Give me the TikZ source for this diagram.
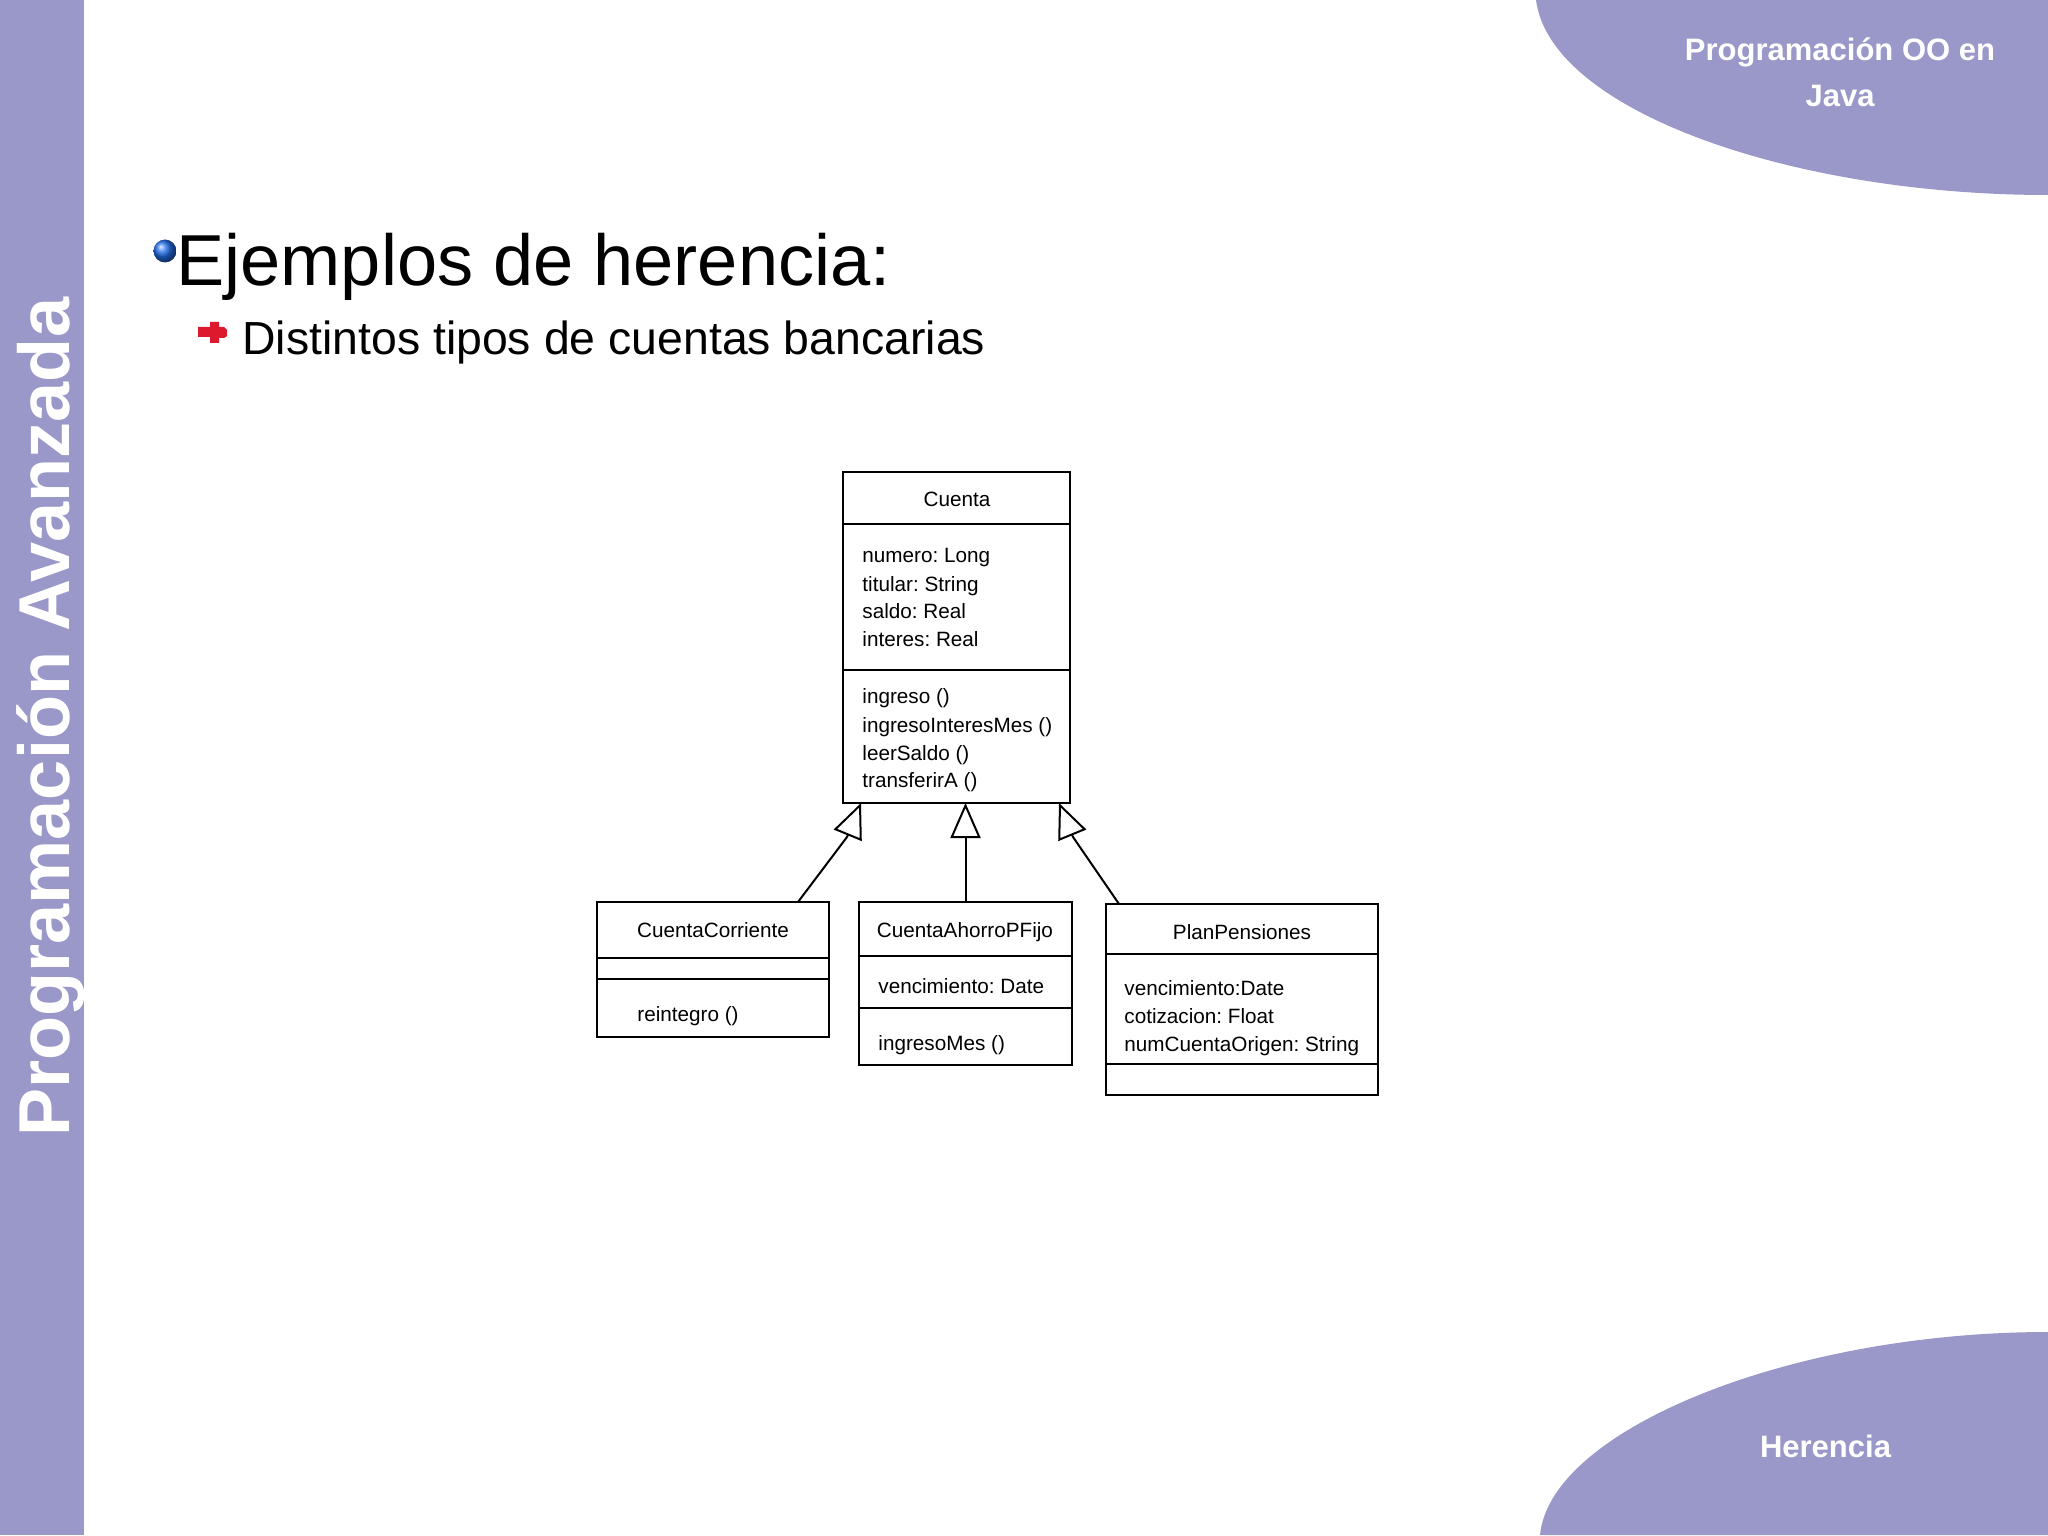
\documentclass[tikz,border=0pt]{standalone}
\usepackage{fontspec}
\setmainfont{Liberation Sans}
\usetikzlibrary{arrows.meta}
\definecolor{lavanda}{RGB}{154,151,201}
\definecolor{bola}{RGB}{35,110,235}
\definecolor{cruz}{RGB}{220,25,45}
\tikzset{
  clase/.style={draw,line width=1.25pt,rectangle,anchor=north west,inner sep=0pt,outer sep=0pt},
  texto/.style={anchor=base west,inner sep=0pt,font=\fontsize{10.35}{14}\selectfont},
  cabecera/.style={inner sep=0pt,text=white,font=\fontsize{15.5}{23}\selectfont\bfseries,align=center},
  linea/.style={line width=1.15pt},
  herencia/.style={line width=1pt,-{Triangle[open,length=17.5pt,width=15pt,fill=white]}}
}
\begin{document}
\frenchspacing
\begin{tikzpicture}[x=0.5pt,y=-0.5pt]
  \useasboundingbox (0,0) rectangle (2048,1535);
  % fondo
  \fill[lavanda] (0,0) rectangle (84,1535);
  \fill[lavanda] (1536,0) .. controls (1550,110) and (1790,195) .. (2048,195) -- (2048,0) -- cycle;
  \fill[lavanda] (1540,1535) .. controls (1550,1430) and (1790,1332) .. (2048,1332) -- (2048,1535) -- cycle;
  \node[cabecera] (tema) at (1840,72) {Programación OO en\\Java};
  \node[cabecera] (seccion) at (1825.5,1446) {Herencia};
  \node[rotate=90,anchor=base west,inner sep=0pt,text=white,font=\fontsize{36.05}{40}\selectfont\bfseries] (lateral) at (69,1137) {Programación Avanzada};
  % titulos
  \shade[ball color=bola] (165,251) circle (11.5);
  \node[anchor=base west,inner sep=0pt,font=\fontsize{36.1}{40}\selectfont] (titulo) at (176,285.5) {Ejemplos de herencia:};
  \fill[cruz] (198,327) -- (210,327) -- (210,322) -- (219,322) -- (219,327) -- (224,327) -- (227,330) -- (227,336) -- (224,338) -- (219,338) -- (219,343) -- (210,343) -- (210,337) -- (198,337) -- cycle;
  \node[anchor=base west,inner sep=0pt,font=\fontsize{23.2}{28}\selectfont] (subtitulo) at (242,355) {Distintos tipos de cuentas bancarias};
  % clases
  \node[clase,minimum width=113.5pt,minimum height=165.5pt] (cuenta) at (843,472) {};
  \draw[linea] (cuenta.west |- 0,524) -- (cuenta.east |- 0,524);
  \draw[linea] (cuenta.west |- 0,670) -- (cuenta.east |- 0,670);
  \node[texto,anchor=base] at (957,506) {Cuenta};
  \foreach \y/\t in {562/numero: Long,591/titular: String,618/saldo: Real,646/interes: Real,703/ingreso (),732/ingresoInteresMes (),760/leerSaldo (),787/transferirA ()}
    \node[texto] at (862,\y) {\t};

  \node[clase,minimum width=116pt,minimum height=67.5pt] (corriente) at (597,902) {};
  \draw[linea] (corriente.west |- 0,958) -- (corriente.east |- 0,958);
  \draw[linea] (corriente.west |- 0,979) -- (corriente.east |- 0,979);
  \node[texto,anchor=base] at (713,937) {CuentaCorriente};
  \node[texto] at (637,1021) {reintegro ()};

  \node[clase,minimum width=106.5pt,minimum height=81.5pt] (ahorro) at (859,902) {};
  \draw[linea] (ahorro.west |- 0,956) -- (ahorro.east |- 0,956);
  \draw[linea] (ahorro.west |- 0,1008) -- (ahorro.east |- 0,1008);
  \node[texto,anchor=base] at (965,937) {CuentaAhorroPFijo};
  \node[texto] at (878,993) {vencimiento: Date};
  \node[texto] at (878,1050) {ingresoMes ()};

  \node[clase,minimum width=136pt,minimum height=95.5pt] (plan) at (1106,904) {};
  \draw[linea] (plan.west |- 0,954) -- (plan.east |- 0,954);
  \draw[linea] (plan.west |- 0,1064) -- (plan.east |- 0,1064);
  \node[texto,anchor=base] at (1242,939) {PlanPensiones};
  \foreach \y/\t in {995/vencimiento:Date,1023/cotizacion: Float,1051/numCuentaOrigen: String}
    \node[texto] at (1124,\y) {\t};

  % herencia
  \coordinate (codoa) at (847,837);
  \coordinate (codob) at (1073,837);
  \draw[herencia] ([xshift=-15.5pt]corriente.north east) -- (codoa) -- ([xshift=9pt]cuenta.south west);
  \draw[herencia] (ahorro.north) -- (ahorro.north |- cuenta.south);
  \draw[herencia] ([xshift=6.5pt]plan.north west) -- (codob) -- ([xshift=-5.5pt]cuenta.south east);
\end{tikzpicture}
\end{document}
